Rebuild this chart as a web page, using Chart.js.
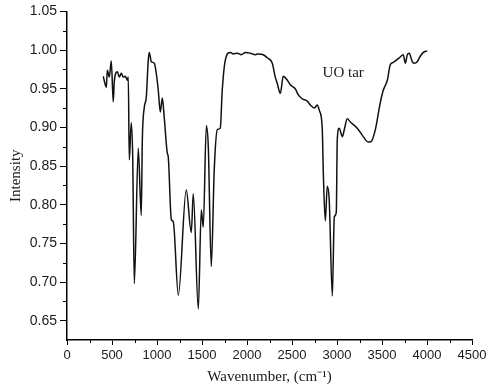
<!DOCTYPE html>
<html lang="en">
<head>
  <meta charset="UTF-8">
  <title>UO tar FTIR</title>
  <script src="https://cdn.jsdelivr.net/npm/chart.js"></script>
  <style>
    html, body {
      margin: 0;
      padding: 0;
      background: #fff;
    }
    #wrap {
      width: 503px;
      height: 389px;
    }
  </style>
</head>
<body>
  <div id="wrap"><canvas id="ftirChart" width="503" height="389"></canvas></div>

  <script>
    // spectrum
    const wavenumber = [
      403, 437, 448, 470, 492, 514, 525, 559, 581, 603, 625, 648, 670, 681, 692, 714, 730, 748,
      792, 825, 837, 859, 881, 903, 914, 937, 970, 992, 1014, 1037, 1059, 1081, 1114, 1125,
      1159, 1181, 1237, 1325, 1381, 1403, 1459, 1492, 1514, 1548, 1570, 1603, 1636, 1670,
      1703, 1725, 1759, 1814, 1848, 1892, 1937, 1981, 2036, 2092, 2125, 2181, 2225, 2281,
      2314, 2336, 2370, 2403, 2448, 2481, 2536, 2570, 2614, 2670, 2703, 2748, 2781, 2803,
      2836, 2848, 2870, 2892, 2914, 2948, 2970, 2992, 3003, 3025, 3059, 3081, 3114, 3148,
      3225, 3292, 3347, 3381, 3426, 3481, 3514, 3559, 3592, 3625, 3670, 3703, 3736, 3759,
      3781, 3803, 3836, 3859, 3892, 3925, 3959, 4003
    ];
    const intensity = [
      0.966, 0.952, 0.974, 0.965, 0.986, 0.933, 0.959, 0.972, 0.965, 0.970, 0.965, 0.966, 0.961, 0.965, 0.858, 0.906, 0.862, 0.698,
      0.873, 0.786, 0.884, 0.926, 0.939, 0.987, 0.997, 0.985, 0.983, 0.970, 0.948, 0.920, 0.938, 0.912, 0.867, 0.862,
      0.781, 0.778, 0.683, 0.819, 0.764, 0.814, 0.665, 0.793, 0.771, 0.902, 0.875, 0.720, 0.845, 0.897,
      0.899, 0.948, 0.987, 0.997, 0.995, 0.996, 0.994, 0.997, 0.996, 0.994, 0.995, 0.994, 0.990, 0.983,
      0.965, 0.957, 0.944, 0.966, 0.961, 0.955, 0.950, 0.942, 0.937, 0.934, 0.929, 0.925, 0.929, 0.922,
      0.899, 0.841, 0.779, 0.824, 0.805, 0.682, 0.784, 0.790, 0.884, 0.899, 0.888, 0.897, 0.911, 0.907,
      0.899, 0.888, 0.881, 0.882, 0.897, 0.932, 0.948, 0.961, 0.981, 0.984, 0.988, 0.991, 0.994, 0.983,
      0.994, 0.996, 0.985, 0.983, 0.985, 0.992, 0.997, 0.999
    ];

    const xTicks = [0, 500, 1000, 1500, 2000, 2500, 3000, 3500, 4000, 4500];
    const yTicks = [0.65, 0.70, 0.75, 0.80, 0.85, 0.90, 0.95, 1.00, 1.05];

    const seriesLabel = "UO tar";
    const xTitle = "Wavenumber, (cm\u207B\u00B9)";
    const yTitle = "Intensity";

    const sans = "'Liberation Sans', Arial, sans-serif";
    const serif = "'Liberation Serif', 'Times New Roman', serif";

    // short ticks halfway between the labelled ones
    const minorTicks = {
      id: "minorTicks",
      afterDraw(chart) {
        const { ctx, scales: { x, y } } = chart;
        ctx.save();
        ctx.strokeStyle = "#000";
        ctx.lineWidth = 1;
        for (let i = 0; i < xTicks.length - 1; i++) {
          const px = Math.round(x.getPixelForValue((xTicks[i] + xTicks[i + 1]) / 2)) + 0.5;
          ctx.beginPath();
          ctx.moveTo(px, x.top);
          ctx.lineTo(px, x.top + 3);
          ctx.stroke();
        }
        for (let i = 0; i < yTicks.length - 1; i++) {
          const py = Math.round(y.getPixelForValue((yTicks[i] + yTicks[i + 1]) / 2)) + 0.5;
          ctx.beginPath();
          ctx.moveTo(y.right, py);
          ctx.lineTo(y.right - 4, py);
          ctx.stroke();
        }
        ctx.restore();
      }
    };

    // series name written inside the plot
    const seriesName = {
      id: "seriesName",
      afterDraw(chart) {
        const { ctx, scales: { x, y } } = chart;
        ctx.save();
        ctx.fillStyle = "#1a1a1a";
        ctx.font = "15px " + serif;
        ctx.textAlign = "left";
        ctx.textBaseline = "middle";
        ctx.fillText(seriesLabel, x.getPixelForValue(2840), y.getPixelForValue(0.970));
        ctx.restore();
      }
    };

    const ctx = document.getElementById("ftirChart").getContext("2d");
    new Chart(ctx, {
      type: "line",
      data: {
        datasets: [{
          label: seriesLabel,
          data: wavenumber.map((w, i) => ({ x: w, y: intensity[i] })),
          borderColor: "#111",
          borderWidth: 1.5,
          pointRadius: 0,
          cubicInterpolationMode: "monotone",
          fill: false
        }]
      },
      options: {
        responsive: false,
        animation: false,
        layout: {
          padding: { top: 11, right: 31, left: 0, bottom: 0 }
        },
        plugins: {
          legend: { display: false },
          tooltip: { enabled: false }
        },
        scales: {
          x: {
            type: "linear",
            min: 0,
            max: 4500,
            afterBuildTicks: scale => { scale.ticks = xTicks.map(v => ({ value: v })); },
            afterFit: scale => { scale.height = 49; },
            grid: { display: true, drawOnChartArea: false, drawTicks: true, tickLength: 5, color: "#000" },
            border: { color: "#000", width: 1.5 },
            ticks: {
              color: "#1a1a1a",
              font: { family: sans, size: 13 },
              padding: 3,
              maxRotation: 0,
              callback: v => String(v)
            },
            title: {
              display: true,
              text: xTitle,
              color: "#1a1a1a",
              font: { family: serif, size: 15 },
              padding: { top: 0, bottom: 3 }
            }
          },
          y: {
            min: 0.625,
            max: 1.05,
            afterBuildTicks: scale => { scale.ticks = yTicks.map(v => ({ value: v })); },
            afterFit: scale => { scale.width = 67; },
            grid: { display: true, drawOnChartArea: false, drawTicks: true, tickLength: 7, color: "#000" },
            border: { color: "#000", width: 1.5 },
            ticks: {
              color: "#1a1a1a",
              font: { family: sans, size: 14 },
              padding: 3,
              callback: v => Number(v).toFixed(2)
            },
            title: {
              display: true,
              text: yTitle,
              color: "#1a1a1a",
              font: { family: serif, size: 15 },
              padding: { top: 7, bottom: 0 }
            }
          }
        }
      },
      plugins: [minorTicks, seriesName]
    });
  </script>
</body>
</html>
